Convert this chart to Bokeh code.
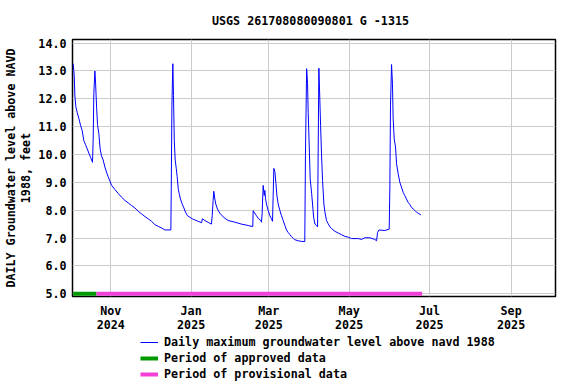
import pandas as pd
from bokeh.plotting import figure
from bokeh.layouts import column
from bokeh.models import (Range1d, FixedTicker, DatetimeTickFormatter,
                          NumeralTickFormatter, Legend, LegendItem, ColumnDataSource)
from bokeh.embed import file_html
from bokeh.resources import INLINE

# ---------------- data ----------------
BASE_DATE = "2024-11-01"
title_text = "USGS 261708080090801 G  -1315"
y_label = "DAILY Groundwater level above NAVD\n1988, feet"
legend_labels = ["Daily maximum groundwater level above navd 1988",
                 "Period of approved data",
                 "Period of provisional data"]

# days since 2024-11-01
day_offsets = [
    -28.6, -27.8, -27.3, -26.5, -25.5, -24.3, -23.0, -21.7, -20.5, -19.2,
    -17.9, -16.7, -15.4, -13.9, -13.4, -12.9, -12.1, -11.6, -10.8, -10.1,
    -9.1, -8.1, -7.1, -5.8, -4.5, -3.3, -2.0, -0.7, 0.5, 3.0,
    5.6, 8.1, 10.7, 13.2, 15.7, 18.3, 20.8, 23.3, 25.9, 28.4,
    30.9, 33.5, 36.0, 38.5, 41.1, 45.6, 45.9, 46.4, 47.1, 47.6,
    48.2, 48.9, 49.7, 50.4, 51.2, 51.9, 52.9, 54.2, 55.5, 56.7,
    58.2, 60.0, 61.8, 63.8, 66.3, 68.9, 69.6, 71.4, 74.4, 76.4,
    77.0, 77.7, 78.2, 79.0, 79.7, 81.0, 82.8, 84.5, 86.6, 89.1,
    94.2, 99.2, 104.3, 107.8, 108.1, 110.6, 111.9, 113.9, 114.4, 114.9,
    115.7, 116.5, 117.0, 117.5, 118.2, 119.5, 120.8, 122.0, 122.8, 123.3,
    123.8, 124.6, 125.4, 126.1, 127.1, 128.4, 129.6, 130.9, 132.2, 133.4,
    134.7, 136.0, 137.2, 138.5, 139.7, 142.3, 144.8, 147.3, 147.8, 148.7,
    149.4, 149.9, 150.7, 151.4, 152.5, 153.2, 154.0, 155.0, 156.2, 157.0,
    157.5, 158.0, 158.5, 159.3, 160.0, 160.8, 161.8, 162.6, 163.8, 165.1,
    166.4, 167.6, 170.2, 172.7, 175.2, 177.7, 180.3, 182.8, 187.9, 190.4,
    192.9, 196.7, 200.5, 201.8, 202.6, 203.6, 208.1, 211.4, 211.9, 212.4,
    213.2, 213.9, 214.4, 215.2, 216.2, 217.0, 218.2, 219.5, 220.7, 222.0,
    223.3, 224.5, 225.8, 227.1, 228.3, 229.6, 230.9, 232.1, 233.4, 235.5,
]
gw_level = [
    13.26, 12.85, 12.10, 11.70, 11.50, 11.30, 11.05, 10.85, 10.50, 10.35,
    10.20, 10.05, 9.90, 9.72, 10.55, 12.20, 13.00, 12.60, 11.70, 11.07,
    10.75, 10.20, 9.95, 9.80, 9.55, 9.37, 9.20, 9.05, 8.90, 8.75,
    8.60, 8.47, 8.35, 8.26, 8.17, 8.08, 7.96, 7.87, 7.77, 7.69,
    7.60, 7.48, 7.42, 7.36, 7.29, 7.29, 8.77, 11.77, 13.26, 12.12,
    10.50, 9.80, 9.50, 9.20, 8.77, 8.60, 8.40, 8.22, 8.08, 7.93,
    7.80, 7.75, 7.69, 7.65, 7.60, 7.55, 7.69, 7.63, 7.55, 7.50,
    7.80, 8.35, 8.68, 8.40, 8.22, 8.04, 7.89, 7.80, 7.71, 7.63,
    7.57, 7.50, 7.45, 7.41, 7.98, 7.80, 7.71, 7.63, 7.57, 7.87,
    8.89, 8.53, 8.71, 8.41, 8.22, 7.99, 7.80, 7.69, 7.60, 8.54,
    9.50, 9.38, 8.96, 8.54, 8.22, 7.99, 7.80, 7.63, 7.45, 7.29,
    7.20, 7.12, 7.05, 6.99, 6.94, 6.90, 6.88, 6.87, 9.97, 13.08,
    12.55, 11.50, 10.27, 9.13, 8.60, 8.22, 7.75, 7.50, 7.45, 7.40,
    10.27, 13.10, 12.35, 11.05, 10.02, 9.07, 8.22, 7.93, 7.63, 7.51,
    7.40, 7.34, 7.24, 7.18, 7.12, 7.06, 7.03, 6.98, 6.98, 6.95,
    7.01, 7.01, 6.95, 6.90, 7.20, 7.29, 7.27, 7.32, 8.83, 11.77,
    13.23, 12.54, 11.30, 10.56, 10.27, 9.67, 9.31, 9.00, 8.83, 8.64,
    8.52, 8.40, 8.28, 8.20, 8.10, 8.05, 7.99, 7.93, 7.89, 7.83,
]

approved_period = [-28.6, -10.9]       # days since BASE_DATE
provisional_period = [-10.9, 236.4]    # days since BASE_DATE
period_level = 5.0

x_tick_dates = ["2024-11-01", "2025-01-01", "2025-03-01",
                "2025-05-01", "2025-07-01", "2025-09-01"]
y_ticks = [5.0, 6.0, 7.0, 8.0, 9.0, 10.0, 11.0, 12.0, 13.0, 14.0]
x_view = [-29.1, 337.7]                # days since BASE_DATE
y_view = [4.9, 14.13]

# ---------------- build ----------------
base = pd.Timestamp(BASE_DATE)
to_dt = lambda d: base + pd.Timedelta(days=d)

FONT = "DejaVu Sans Mono"
FS = "11.7px"
BLUE, GREEN, PINK = "#0000ff", "#009900", "#f040d8"

p = figure(frame_width=483, frame_height=257, x_axis_type="datetime",
           output_backend="svg", toolbar_location=None,
           x_range=Range1d(to_dt(x_view[0]), to_dt(x_view[1])),
           y_range=Range1d(y_view[0], y_view[1]),
           min_border_left=63, min_border_right=14,
           min_border_top=0, min_border_bottom=0,
           title=title_text)

p.title.text_font = FONT
p.title.text_font_size = FS
p.title.text_font_style = "bold"
p.title.align = "center"
p.title.text_color = "black"
p.title.standoff = 23

p.outline_line_color = "black"
p.outline_line_width = 1.5
p.background_fill_color = "white"
p.border_fill_color = "white"

p.grid.grid_line_color = "#cccccc"
p.grid.grid_line_width = 1

src = ColumnDataSource(dict(x=[to_dt(d) for d in day_offsets], y=gw_level))
p.line("x", "y", source=src, line_color=BLUE, line_width=1)
p.line([to_dt(d) for d in approved_period], [period_level] * 2,
       line_color=GREEN, line_width=4)
p.line([to_dt(d) for d in provisional_period], [period_level] * 2,
       line_color=PINK, line_width=4)

# axes
xt = [pd.Timestamp(d).value // 10**6 for d in x_tick_dates]
p.xaxis.ticker = FixedTicker(ticks=xt)
fmt = "%b\n%Y"
p.xaxis.formatter = DatetimeTickFormatter(
    days=fmt, months=fmt, years=fmt, hours=fmt, minutes=fmt, seconds=fmt,
    milliseconds=fmt, microseconds=fmt, minsec=fmt, hourmin=fmt)
p.yaxis.ticker = FixedTicker(ticks=y_ticks)
p.yaxis.formatter = NumeralTickFormatter(format="0.0")

for ax in (p.xaxis[0], p.yaxis[0]):
    ax.major_tick_out = 0
    ax.major_tick_in = 0
    ax.minor_tick_out = 0
    ax.minor_tick_in = 0
    ax.axis_line_color = None
    ax.major_label_text_font = FONT
    ax.major_label_text_font_size = FS
    ax.major_label_text_font_style = "bold"
    ax.major_label_text_color = "black"

p.xaxis.major_label_standoff = 7
p.xaxis.major_label_text_line_height = 1.0
p.yaxis.major_label_standoff = 6
p.yaxis.axis_label = y_label
p.yaxis.axis_label_text_font = FONT
p.yaxis.axis_label_text_font_size = FS
p.yaxis.axis_label_text_font_style = "bold"
p.yaxis.axis_label_text_color = "black"
p.yaxis.axis_label_standoff = 2
p.yaxis.axis_label_text_line_height = 1.1

# legend strip (separate small figure holding only the legend)
lg = figure(width=560, height=48, output_backend="svg", toolbar_location=None,
            x_axis_location=None, y_axis_location=None,
            x_range=Range1d(0, 1), y_range=Range1d(0, 1), min_border=0)
lg.outline_line_color = None
lg.grid.visible = False
lg.background_fill_color = "white"
lg.border_fill_color = "white"
nan = float("nan")
e1 = lg.line(x=[nan], y=[nan], line_color=BLUE, line_width=1)
e2 = lg.line(x=[nan], y=[nan], line_color=GREEN, line_width=4)
e3 = lg.line(x=[nan], y=[nan], line_color=PINK, line_width=4)

legend = Legend(items=[
    LegendItem(label=legend_labels[0], renderers=[e1]),
    LegendItem(label=legend_labels[1], renderers=[e2]),
    LegendItem(label=legend_labels[2], renderers=[e3]),
], location=(68, 0), orientation="vertical")
legend.border_line_color = None
legend.background_fill_alpha = 0
legend.padding = 0
legend.margin = 0
legend.spacing = 0
legend.label_height = 16
legend.glyph_height = 16
legend.glyph_width = 18
legend.label_standoff = 6
legend.label_text_font = FONT
legend.label_text_font_size = FS
legend.label_text_font_style = "bold"
legend.label_text_color = "black"
legend.label_text_line_height = 1.0
lg.add_layout(legend, "center")

layout = column(p, lg, spacing=0)
open("out.html", "w").write(file_html(layout, INLINE))
